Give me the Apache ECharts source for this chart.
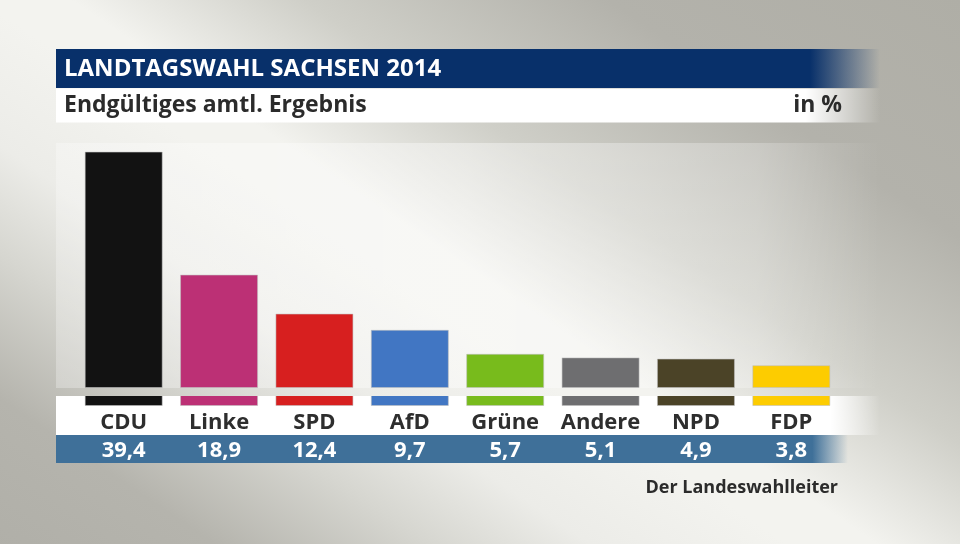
<!DOCTYPE html>
<html>
<head>
<meta charset="utf-8">
<script src="https://cdn.jsdelivr.net/npm/echarts@6/dist/echarts.min.js"></script>
<style>
html,body{margin:0;padding:0;background:#b0afa8;}
#chart{width:960px;height:544px;}
</style>
</head>
<body>
<div id="chart"></div>
<script>
// ---- data ----
const categories = ['CDU', 'Linke', 'SPD', 'AfD', 'Grüne', 'Andere', 'NPD', 'FDP'];
const values = [39.4, 18.9, 12.4, 9.7, 5.7, 5.1, 4.9, 3.8];
const titleText = 'LANDTAGSWAHL SACHSEN 2014';
const subtitleText = 'Endgültiges amtl. Ergebnis';
const unitText = 'in %';
const sourceText = 'Der Landeswahlleiter';

// ---- styles ----
const partyColors = ['#121212', '#bc3075', '#d71f1f', '#4176c3', '#78bb1c', '#6e6e70', '#4b4327', '#fdcc00'];
const FONT = '"Open Sans", "DejaVu Sans", sans-serif';
const STUB = 3; // visual extension of bars below the baseline band

const bgGradient = {
  type: 'linear', global: true,
  x: 302, y: -448, x2: -258, y2: 382,
  colorStops: [
    { offset: 0, color: '#afaea6' },
    { offset: 0.2, color: '#b3b2ab' },
    { offset: 0.37, color: '#cfcfc8' },
    { offset: 0.5, color: '#f3f3ef' },
    { offset: 0.55, color: '#f3f3ef' },
    { offset: 0.66, color: '#ecece8' },
    { offset: 0.75, color: '#d6d6d0' },
    { offset: 0.87, color: '#b5b4ad' },
    { offset: 1, color: '#b0afa8' }
  ]
};

function hFade(color, solidUntil, transparent) {
  return {
    type: 'linear', x: 0, y: 0, x2: 1, y2: 0,
    colorStops: [
      { offset: 0, color: color },
      { offset: solidUntil, color: color },
      { offset: 1, color: transparent }
    ]
  };
}

const fmt = v => v.toFixed(1).replace('.', ',');

const chart = echarts.init(document.getElementById('chart'), null, { renderer: 'canvas' });

chart.setOption({
  animation: false,
  backgroundColor: 'transparent',
  grid: { left: 76, right: 121, top: 136, bottom: 138, containLabel: false },
  xAxis: [
    {
      type: 'category', data: categories, position: 'bottom', z: 20,
      axisLine: { show: false }, axisTick: { show: false }, splitLine: { show: false },
      axisLabel: { margin: 6, fontSize: 22, fontWeight: 'bold', color: '#2e2e2e', fontFamily: FONT, interval: 0 }
    },
    {
      type: 'category', data: categories, position: 'bottom', offset: 0, z: 20,
      axisLine: { show: false }, axisTick: { show: false }, splitLine: { show: false },
      axisLabel: {
        margin: 34, fontSize: 22, fontWeight: 'bold', color: '#ffffff', fontFamily: FONT, interval: 0,
        formatter: (val, idx) => fmt(values[idx])
      }
    }
  ],
  yAxis: {
    type: 'value', min: 0, max: 45, show: false,
    splitLine: { show: false }
  },
  series: [
    {
      type: 'bar', name: 'base', stack: 'a', barWidth: 78, xAxisIndex: 0,
      data: categories.map(() => STUB),
      itemStyle: { color: p => partyColors[p.dataIndex], borderColor: 'rgba(190,190,190,0.55)', borderWidth: 1 },
      silent: true
    },
    {
      type: 'bar', name: 'Ergebnis', stack: 'a', barWidth: 78, xAxisIndex: 0,
      data: values,
      itemStyle: { color: p => partyColors[p.dataIndex], borderColor: 'rgba(190,190,190,0.55)', borderWidth: 1 }
    }
  ],
  graphic: [
    { type: 'rect', z: -10, silent: true, shape: { x: 0, y: 0, width: 960, height: 544 }, style: { fill: bgGradient } },
    { type: 'rect', z: -9, silent: true, shape: { x: 56, y: 143, width: 824, height: 245 },
      style: { fill: {
        type: 'linear', x: 0, y: 0, x2: 1, y2: 0,
        colorStops: [
          { offset: 0, color: 'rgba(255,255,255,0.28)' },
          { offset: 0.5, color: 'rgba(255,255,255,0.4)' },
          { offset: 0.85, color: 'rgba(255,255,255,0.25)' },
          { offset: 1, color: 'rgba(255,255,255,0)' }
        ] } } },
    { type: 'rect', z: -8, silent: true, shape: { x: 56, y: 396, width: 824, height: 39 },
      style: { fill: hFade('#ffffff', 0.94, 'rgba(255,255,255,0)') } },
    { type: 'rect', z: -8, silent: true, shape: { x: 56, y: 435, width: 792, height: 28 },
      style: { fill: hFade('#3f7099', 0.955, 'rgba(63,112,153,0)') } },
    // baseline band (background shows through the bars)
    { type: 'rect', z: 10, silent: true, shape: { x: 56, y: 388, width: 824, height: 8 }, style: { fill: bgGradient } },
    // title bars
    { type: 'rect', z: 5, silent: true, shape: { x: 56, y: 49, width: 824, height: 39 },
      style: { fill: hFade('#08306a', 0.915, 'rgba(8,48,106,0)') } },
    { type: 'rect', z: 5, silent: true, shape: { x: 56, y: 88.5, width: 824, height: 34 },
      style: { fill: hFade('#ffffff', 0.91, 'rgba(255,255,255,0)') } },
    { type: 'text', z: 6, silent: true, x: 64, y: 69,
      style: { text: titleText, fill: '#ffffff', font: 'bold 24px ' + FONT, align: 'left', verticalAlign: 'middle' } },
    { type: 'text', z: 6, silent: true, x: 64, y: 105,
      style: { text: subtitleText, fill: '#2b2b2b', font: 'bold 23px ' + FONT, align: 'left', verticalAlign: 'middle' } },
    { type: 'text', z: 6, silent: true, x: 842, y: 105,
      style: { text: unitText, fill: '#2b2b2b', font: 'bold 23px ' + FONT, align: 'right', verticalAlign: 'middle' } },
    { type: 'text', z: 6, silent: true, x: 838, y: 488,
      style: { text: sourceText, fill: '#2b2b2b', font: 'bold 18px ' + FONT, align: 'right', verticalAlign: 'middle' } }
  ]
});
</script>
</body>
</html>
